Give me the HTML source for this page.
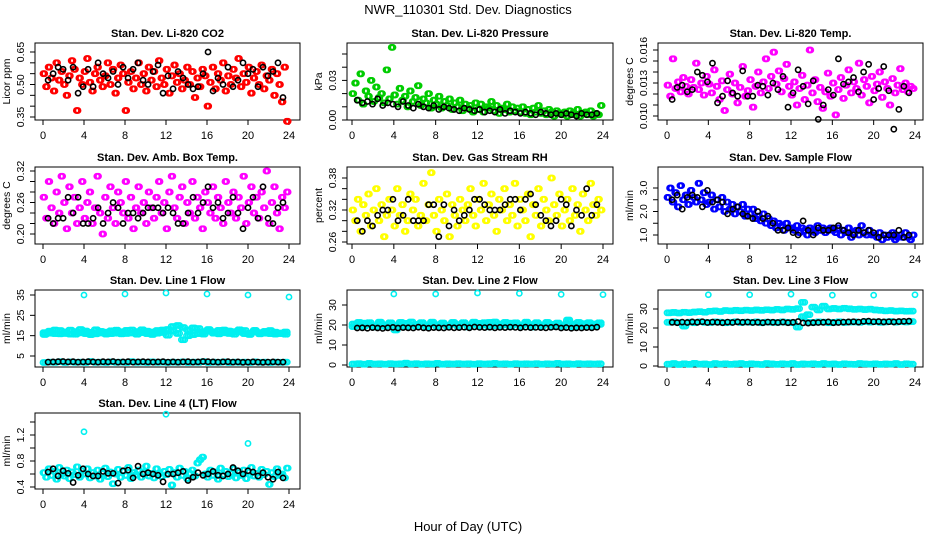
<!DOCTYPE html>
<html><head><meta charset="utf-8"><style>
html,body{margin:0;padding:0;background:#fff;}
svg{display:block;font-family:"Liberation Sans",sans-serif;}
</style></head><body>
<svg id="chart" width="936" height="540" viewBox="0 0 936 540" xmlns="http://www.w3.org/2000/svg">
<rect width="936" height="540" fill="#fff"/>
<text x="468" y="14" font-size="13" text-anchor="middle">NWR_110301  Std. Dev. Diagnostics</text>
<text x="468" y="531" font-size="13" text-anchor="middle">Hour of Day (UTC)</text>
</svg>
<script>
// ---------- data ----------
const xTickVals = [0,4,8,12,16,20,24];
const outlierHours = [4,8,12,16,20,24];

const co2Color = [0.55,0.49,0.58,0.53,0.47,0.60,0.52,0.56,0.50,0.45,0.54,0.61,0.57,0.38,0.53,0.50,0.56,0.62,0.51,0.47,0.55,0.58,0.52,0.49,0.54,0.60,0.50,0.57,0.46,0.53,0.59,0.55,0.38,0.51,0.56,0.48,0.53,0.60,0.50,0.55,0.47,0.58,0.52,0.56,0.49,0.61,0.53,0.50,0.57,0.46,0.54,0.59,0.51,0.55,0.48,0.52,0.58,0.50,0.56,0.44,0.53,0.49,0.57,0.54,0.40,0.51,0.58,0.48,0.55,0.52,0.60,0.47,0.54,0.50,0.57,0.53,0.62,0.49,0.55,0.51,0.58,0.46,0.53,0.56,0.50,0.59,0.48,0.54,0.52,0.57,0.45,0.55,0.50,0.42,0.58,0.33];
const co2Black = [0.52,0.55,0.58,0.57,0.52,0.58,0.46,0.49,0.57,0.49,0.60,0.55,0.53,0.56,0.50,0.58,0.53,0.57,0.60,0.52,0.50,0.56,0.59,0.46,0.54,0.48,0.56,0.53,0.50,0.48,0.49,0.55,0.65,0.47,0.53,0.50,0.58,0.49,0.52,0.60,0.55,0.57,0.49,0.58,0.54,0.56,0.60,0.44];

const presColor = [0.020,0.028,0.015,0.035,0.012,0.022,0.018,0.030,0.014,0.025,0.017,0.020,0.013,0.038,0.016,0.055,0.019,0.012,0.024,0.015,0.018,0.010,0.022,0.014,0.017,0.026,0.011,0.016,0.013,0.020,0.009,0.015,0.012,0.018,0.009,0.014,0.011,0.016,0.008,0.013,0.010,0.015,0.007,0.012,0.009,0.011,0.006,0.013,0.008,0.012,0.006,0.010,0.009,0.014,0.007,0.011,0.005,0.009,0.008,0.012,0.006,0.010,0.007,0.009,0.006,0.010,0.005,0.008,0.004,0.009,0.006,0.011,0.005,0.007,0.004,0.008,0.006,0.003,0.007,0.005,0.004,0.006,0.003,0.007,0.005,0.004,0.008,0.003,0.005,0.006,0.004,0.007,0.003,0.005,0.004,0.011];
const presBlack = [0.015,0.013,0.014,0.012,0.016,0.011,0.013,0.012,0.010,0.014,0.011,0.009,0.012,0.010,0.009,0.011,0.008,0.010,0.009,0.008,0.007,0.009,0.008,0.007,0.008,0.006,0.007,0.006,0.008,0.005,0.007,0.006,0.005,0.006,0.005,0.004,0.006,0.005,0.004,0.005,0.004,0.005,0.004,0.003,0.005,0.004,0.004,0.005];

const tempColor = [0.0128,0.0118,0.0152,0.0125,0.0131,0.0122,0.0135,0.0127,0.0120,0.0133,0.0126,0.0148,0.0124,0.0130,0.0119,0.0136,0.0129,0.0121,0.0142,0.0127,0.0115,0.0132,0.0105,0.0124,0.0138,0.0120,0.0130,0.0112,0.0126,0.0145,0.0118,0.0123,0.0133,0.0108,0.0127,0.0140,0.0121,0.0131,0.0152,0.0125,0.0136,0.0158,0.0129,0.0141,0.0122,0.0134,0.0147,0.0127,0.0119,0.0131,0.0110,0.0125,0.0137,0.0115,0.0128,0.0160,0.0121,0.0133,0.0113,0.0126,0.0107,0.0122,0.0139,0.0118,0.0130,0.0101,0.0124,0.0135,0.0116,0.0128,0.0142,0.0121,0.0131,0.0125,0.0148,0.0119,0.0133,0.0127,0.0112,0.0136,0.0123,0.0129,0.0140,0.0117,0.0131,0.0125,0.0110,0.0134,0.0121,0.0128,0.0143,0.0124,0.0130,0.0122,0.0127,0.0125];
const tempBlack = [0.0115,0.0126,0.0128,0.0122,0.0124,0.0140,0.0137,0.0131,0.0148,0.0112,0.0118,0.0132,0.0121,0.0118,0.0141,0.0118,0.0118,0.0128,0.0127,0.0119,0.0130,0.0124,0.0136,0.0108,0.0121,0.0142,0.0127,0.0111,0.0132,0.0097,0.0110,0.0124,0.0119,0.0152,0.0129,0.0131,0.0135,0.0122,0.0140,0.0147,0.0115,0.0125,0.0145,0.0123,0.0088,0.0106,0.0127,0.0121];

const ambColor = [0.27,0.23,0.30,0.25,0.22,0.28,0.24,0.31,0.26,0.21,0.29,0.24,0.27,0.22,0.25,0.30,0.23,0.26,0.28,0.22,0.25,0.31,0.24,0.20,0.27,0.23,0.29,0.25,0.22,0.28,0.26,0.24,0.30,0.23,0.27,0.21,0.25,0.29,0.24,0.26,0.22,0.28,0.25,0.23,0.27,0.30,0.24,0.26,0.21,0.28,0.31,0.25,0.23,0.27,0.29,0.22,0.26,0.24,0.30,0.23,0.27,0.25,0.21,0.28,0.26,0.24,0.29,0.23,0.27,0.25,0.22,0.30,0.26,0.24,0.28,0.23,0.27,0.25,0.31,0.22,0.26,0.29,0.24,0.27,0.23,0.28,0.25,0.32,0.22,0.26,0.29,0.24,0.21,0.27,0.25,0.28];
const ambBlack = [0.23,0.22,0.23,0.23,0.27,0.24,0.27,0.22,0.22,0.23,0.25,0.22,0.24,0.26,0.25,0.22,0.24,0.24,0.23,0.24,0.25,0.25,0.25,0.24,0.25,0.24,0.22,0.22,0.24,0.27,0.24,0.26,0.29,0.25,0.26,0.23,0.24,0.27,0.24,0.21,0.25,0.27,0.23,0.29,0.23,0.22,0.25,0.26];

const rhColor = [0.32,0.30,0.34,0.28,0.33,0.31,0.35,0.29,0.32,0.36,0.30,0.33,0.27,0.31,0.34,0.32,0.29,0.36,0.31,0.33,0.28,0.30,0.35,0.32,0.34,0.29,0.31,0.37,0.30,0.33,0.39,0.31,0.28,0.34,0.32,0.30,0.35,0.27,0.33,0.31,0.29,0.34,0.32,0.30,0.33,0.36,0.31,0.29,0.34,0.32,0.37,0.30,0.33,0.35,0.31,0.28,0.34,0.32,0.36,0.30,0.33,0.31,0.37,0.29,0.34,0.32,0.30,0.35,0.27,0.33,0.31,0.36,0.29,0.34,0.32,0.30,0.38,0.33,0.31,0.35,0.29,0.32,0.34,0.30,0.36,0.31,0.33,0.28,0.35,0.32,0.30,0.37,0.33,0.31,0.34,0.32];
const rhBlack = [0.30,0.28,0.30,0.29,0.31,0.32,0.32,0.34,0.30,0.31,0.34,0.30,0.30,0.30,0.33,0.33,0.27,0.33,0.29,0.32,0.30,0.31,0.32,0.34,0.34,0.33,0.32,0.32,0.32,0.33,0.34,0.34,0.32,0.34,0.35,0.33,0.31,0.30,0.29,0.30,0.34,0.33,0.29,0.32,0.31,0.36,0.31,0.33];

const flowColor = [2.6,3.0,2.4,2.8,2.2,3.1,2.5,2.7,2.3,2.9,2.6,2.4,3.2,2.5,2.8,2.3,2.4,2.7,2.1,2.5,2.2,2.6,2.0,2.4,2.1,2.3,1.9,2.2,2.0,2.3,1.8,2.1,1.9,2.1,1.7,1.8,1.6,1.9,1.5,1.7,1.4,1.6,1.3,1.5,1.4,1.2,1.5,1.3,1.3,1.2,1.4,1.1,1.3,1.2,1.0,1.3,1.2,1.1,1.4,1.2,1.3,1.1,1.2,1.3,1.2,1.1,1.3,1.0,1.2,1.1,1.3,0.9,1.1,1.2,1.0,1.4,1.1,1.0,1.2,1.0,1.0,0.9,1.1,0.8,1.0,0.9,1.0,1.1,0.8,0.9,1.0,0.9,1.1,0.9,0.8,1.0];
const flowBlack = [2.5,2.7,2.1,2.6,2.7,2.6,2.2,2.9,2.4,2.5,2.4,1.9,2.1,2.2,1.9,1.8,1.7,2.0,1.7,1.8,1.5,1.2,1.2,1.3,1.1,1.0,1.6,1.2,1.0,1.3,1.2,1.2,1.3,1.4,1.2,1.1,1.0,1.2,1.1,1.2,1.1,0.9,1.0,1.0,1.0,1.2,0.9,1.0];

const line1CyanA = [16.5,17.2,16.0,17.5,16.8,15.8,17.0,16.4,17.3,16.6,15.9,17.1,16.7,17.4,16.2,16.9,17.6,16.3,17.0,16.5,17.2,16.8,17.5,16.6,18.0,17.3,16.1,19.0,17.8,15.5,18.5,17.0,17.2,16.9,17.6,16.4,17.3,17.0,16.8,17.5,16.2,16.9,16.5,17.1,16.0,16.7,16.3,16.8];
const line1CyanB = [15.6,16.2,17.8,15.9,16.1,17.7,15.7,18.0,16.0,15.5,17.9,16.3,15.8,16.0,17.7,15.9,16.1,17.8,15.7,17.9,16.0,15.6,16.2,17.8,15.2,19.5,20.0,13.0,15.0,18.8,16.0,15.8,18.0,16.2,15.9,17.8,16.1,15.7,17.9,16.0,15.6,17.6,15.9,16.2,17.5,15.8,16.0,15.7];
const line1CyanLow = [1.8,2.0,1.9,2.2,1.8,2.1,1.9,2.0,1.8,2.3,1.9,2.0,1.8,2.1,1.9,2.0,1.8,2.2,1.9,2.0,1.8,2.1,1.9,2.0,1.8,2.0,1.9,2.1,1.8,2.0,1.9,2.2,1.8,2.0,1.9,2.1,1.8,2.0,1.9,2.0,1.8,2.1,1.9,2.0,1.8,2.0,1.9,2.0];
const line1Black = [2.0,2.1,2.2,2.3,2.1,2.2,2.0,2.1,2.2,2.1,2.0,2.2,2.1,2.3,2.0,2.1,2.2,2.0,2.1,2.2,2.1,2.0,2.1,2.2,2.0,2.1,2.0,2.1,2.2,2.0,2.1,2.3,2.2,2.1,2.0,2.1,2.2,2.0,2.1,1.9,2.0,2.1,2.0,1.9,2.0,2.1,2.0,2.0];
const line1Outliers = [35.0,35.5,36.0,35.5,35.0,34.0];

const line2CyanA = [20.5,19.8,20.9,20.2,19.5,20.7,20.0,21.0,19.7,20.4,20.8,19.9,20.3,21.1,19.6,20.5,20.1,20.9,19.8,20.6,20.2,21.2,19.9,20.4,20.8,20.0,21.3,19.7,20.5,20.1,20.9,20.3,19.8,20.7,20.2,21.0,19.9,20.6,20.3,20.8,20.0,22.0,20.4,19.8,20.7,20.2,20.5,20.3];
const line2CyanB = [19.2,21.3,19.4,21.2,19.0,21.4,19.3,21.1,17.5,21.3,19.2,21.5,19.4,21.2,19.1,21.4,19.3,21.0,19.2,21.3,19.4,21.1,19.0,21.4,19.3,21.2,19.1,21.5,19.4,21.3,19.2,21.1,19.3,21.4,19.0,21.2,19.4,21.3,19.2,21.0,19.3,22.5,19.1,21.3,19.4,21.2,19.2,21.1];
const line2CyanLow = [0.5,0.7,0.4,0.8,0.5,0.6,0.4,0.7,0.5,0.6,0.9,0.5,0.7,0.4,0.6,0.5,0.8,0.4,0.6,0.5,0.7,0.5,0.6,0.4,0.7,0.5,0.6,0.8,0.5,0.6,0.4,0.7,0.5,0.6,0.5,0.7,0.4,0.6,0.5,0.8,0.5,0.6,0.4,0.7,0.5,0.6,0.5,0.6];
const line2Black = [18.5,18.6,18.4,18.7,18.5,18.3,18.6,18.8,18.5,18.7,18.6,18.5,18.9,18.6,18.4,18.7,18.6,18.5,18.8,18.6,18.7,18.9,18.6,19.0,18.8,18.7,18.9,18.6,18.8,18.7,18.9,18.8,18.6,18.9,18.7,18.8,18.7,18.6,18.8,19.0,18.5,18.7,18.4,18.6,18.5,18.7,18.6,18.9];
const line2Outliers = [35.5,35.5,36.0,35.8,35.3,35.2];

const line3CyanUpper = [28.0,28.2,27.9,28.3,28.1,28.4,28.6,28.3,28.8,29.0,28.7,29.2,29.0,29.3,29.1,29.4,29.2,29.5,29.3,29.6,29.4,29.8,29.5,30.0,29.8,30.2,33.5,27.0,31.0,29.5,31.5,30.0,30.3,30.0,30.4,30.1,29.8,30.0,29.7,29.9,29.5,29.3,29.0,29.2,28.9,29.0,28.8,28.9];
const line3CyanMid = [23.0,23.2,22.9,21.0,23.1,22.8,23.3,23.0,22.9,23.2,23.1,22.8,23.0,23.3,22.9,23.1,23.0,23.2,22.8,23.1,23.0,22.9,23.2,23.0,22.8,20.5,26.0,23.0,22.9,23.2,23.1,22.8,23.0,23.3,22.9,23.1,23.2,23.0,23.4,23.1,23.3,23.0,23.2,23.4,23.1,23.3,23.2,23.4];
const line3CyanLow = [1.0,1.3,0.8,1.2,0.9,1.4,1.0,1.1,0.8,1.3,1.0,1.2,0.9,1.1,1.3,0.9,1.2,1.0,0.8,1.3,1.1,0.9,1.2,1.0,1.3,0.8,1.1,1.0,1.2,0.9,1.3,1.0,1.1,0.8,1.2,1.0,0.9,1.3,1.1,1.0,1.2,0.9,1.1,1.0,1.3,0.8,1.2,1.0];
const line3Black = [23.0,22.8,23.1,22.9,23.2,23.0,23.3,22.9,23.1,23.0,22.8,23.1,22.9,23.2,23.0,23.1,22.9,23.0,22.8,23.1,23.0,22.9,23.1,22.8,23.0,23.4,22.7,22.6,22.8,22.9,23.0,23.2,22.8,22.9,23.1,23.2,23.3,23.1,23.5,23.6,23.3,23.4,23.2,23.3,23.2,23.4,23.5,23.6];
const line3Outliers = [37.5,37.5,37.8,37.3,37.3,37.5];

const line4Color = [0.62,0.55,0.68,0.58,0.64,0.52,0.70,0.60,0.57,0.66,0.53,0.63,0.59,0.71,0.55,0.65,0.60,0.68,0.54,0.62,0.57,0.66,0.52,0.61,0.69,0.56,0.63,0.45,0.60,0.67,0.55,0.64,0.58,0.70,0.53,0.62,0.59,0.66,0.55,0.63,0.72,0.57,0.61,0.54,0.68,0.60,0.56,0.64,0.59,0.67,0.43,0.62,0.55,0.69,0.58,0.64,0.53,0.61,0.66,0.57,0.77,0.82,0.86,0.60,0.55,0.66,0.58,0.63,0.52,0.69,0.59,0.64,0.56,0.61,0.68,0.54,0.62,0.58,0.66,0.53,0.63,0.70,0.57,0.61,0.55,0.67,0.59,0.64,0.44,0.62,0.56,0.68,0.58,0.60,0.54,0.69];
const line4Black = [0.63,0.68,0.57,0.65,0.61,0.47,0.58,0.68,0.60,0.57,0.57,0.64,0.61,0.61,0.46,0.65,0.66,0.54,0.72,0.60,0.62,0.60,0.58,0.48,0.60,0.60,0.62,0.64,0.50,0.55,0.62,0.58,0.60,0.64,0.58,0.57,0.60,0.70,0.65,0.60,0.65,0.63,0.57,0.62,0.55,0.52,0.63,0.54];
const line4OutlierHours = [4,12,20];
const line4Outliers = [1.25,1.52,1.07];

// ---------- drawing ----------
const NS = "http://www.w3.org/2000/svg";
const svg = document.getElementById('chart');
const COLS = [{l:35,r:300,x0:43,x24:289},{l:347,r:613,x0:352,x24:603},{l:658,r:923,x0:667,x24:915}];
const ROWS = [{t:43,b:120},{t:167,b:244},{t:290,b:367},{t:413,b:489}];

function mk(tag, attrs, parent){
  const e = document.createElementNS(NS, tag);
  for (const k in attrs) e.setAttribute(k, attrs[k]);
  (parent||svg).appendChild(e);
  return e;
}

function panel(p){
  const c = COLS[p.col], r = ROWS[p.row];
  const g = mk('g', {});
  
  
  const xs = h => c.x0 + (c.x24 - c.x0) * h / 24;
  const ys = v => p.p0 + (p.p1 - p.p0) * (v - p.v0) / (p.v1 - p.v0);
  const box = mk('rect', {x:c.l, y:r.t, width:c.r-c.l, height:r.b-r.t, fill:'none', stroke:'#000', 'stroke-width':1}, g);
  
  
  const title = mk('text', {x:(c.l+c.r)/2, y:r.t-6, 'font-size':11, 'font-weight':'bold', 'text-anchor':'middle'}, g);
  title.textContent = p.title;
  
  
  xTickVals.forEach(v => {
    const x = xs(v);
    mk('line', {x1:x, x2:x, y1:r.b, y2:r.b+5, stroke:'#000'}, g);
    const t = mk('text', {x:x, y:r.b+19, 'font-size':11, 'text-anchor':'middle'}, g);
    t.textContent = v;
    
    
  });
  mk('line', {x1:xs(0), x2:xs(24), y1:r.b, y2:r.b, stroke:'#000'}, g);
  const yt = p.yTicks.map(ys);
  mk('line', {x1:c.l, x2:c.l, y1:Math.min(...yt), y2:Math.max(...yt), stroke:'#000'}, g);
  p.yTicks.forEach((v,i) => {
    const y = ys(v);
    mk('line', {x1:c.l-5, x2:c.l, y1:y, y2:y, stroke:'#000'}, g);
    if (p.yLabels[i] !== '') {
      const t = mk('text', {x:c.l-11, y:y, 'font-size':10.5, 'text-anchor':'middle', transform:`rotate(-90 ${c.l-11} ${y})`}, g);
      t.textContent = p.yLabels[i];
      
      
    }
  });
  const yl = mk('text', {x:c.l-25, y:(r.t+r.b)/2, 'font-size':10.5, 'text-anchor':'middle', transform:`rotate(-90 ${c.l-25} ${(r.t+r.b)/2})`}, g);
  yl.textContent = p.ylab;
  
  
  p.series.forEach(s => {
    const sg = mk('g', {fill:'none', stroke:s.color, 'stroke-width':1.6}, g);
    
    
    const reps = s.dense ? 3 : 1;
    s.vals.forEach((v,i) => {
      const h = s.hours ? s.hours[i] : s.start + i * s.step;
      const y = ys(v);
      for (let k = 0; k < reps; k++) {
        const hx = h + (s.dense ? k * s.step / reps : 0);
        const pt = mk('circle', {cx:xs(hx), cy:y, r:2.6}, sg);
        
        
      }
    });
  });
}

const C = (vals, color, id) => ({vals, color, id, start:0, step:24/vals.length, dense:true});
const K = (vals, id) => ({vals, color:'#000', id:id||'black', start:0.5, step:23.4/vals.length});
const O = (vals, color, hours) => ({vals, color, id:'outlier', hours});
const CY = '#00f0f0';

panel({name:'co2', col:0,row:0,title:'Stan. Dev. Li-820 CO2', ylab:'Licor ppm',
  v0:0.35,p0:117, v1:0.65,p1:52,
  yTicks:[0.35,0.40,0.45,0.50,0.55,0.60,0.65], yLabels:['0.35','','','0.50','','','0.65'],
  series:[C(co2Color,'#ff0000','red'), K(co2Black)]});
panel({name:'pressure', col:1,row:0,title:'Stan. Dev. Li-820 Pressure', ylab:'kPa',
  v0:0,p0:120, v1:0.05,p1:54,
  yTicks:[0,0.01,0.02,0.03,0.04,0.05], yLabels:['0.00','','','0.03','',''],
  series:[C(presColor,'#00cc00','green'), K(presBlack)]});
panel({name:'temp', col:2,row:0,title:'Stan. Dev. Li-820 Temp.', ylab:'degrees C',
  v0:0.010,p0:116, v1:0.016,p1:50,
  yTicks:[0.010,0.011,0.012,0.013,0.014,0.015,0.016], yLabels:['0.010','','','0.013','','','0.016'],
  series:[C(tempColor,'#ff00ff','magenta'), K(tempBlack)]});
panel({name:'amb-box-temp', col:0,row:1,title:'Stan. Dev. Amb. Box Temp.', ylab:'degrees C',
  v0:0.20,p0:234, v1:0.32,p1:171,
  yTicks:[0.20,0.22,0.24,0.26,0.28,0.30,0.32], yLabels:['0.20','','','0.26','','','0.32'],
  series:[C(ambColor,'#ff00ff','magenta'), K(ambBlack)]});
panel({name:'gas-rh', col:1,row:1,title:'Stan. Dev. Gas Stream RH', ylab:'percent',
  v0:0.26,p0:242, v1:0.38,p1:178,
  yTicks:[0.26,0.28,0.30,0.32,0.34,0.36,0.38], yLabels:['0.26','','','0.32','','','0.38'],
  series:[C(rhColor,'#ffff00','yellow'), K(rhBlack)]});
panel({name:'sample-flow', col:2,row:1,title:'Stan. Dev. Sample Flow', ylab:'ml/min',
  v0:1.0,p0:235, v1:3.0,p1:188,
  yTicks:[1.0,1.5,2.0,2.5,3.0], yLabels:['1.0','','2.0','','3.0'],
  series:[C(flowColor,'#0000ff','blue'), K(flowBlack)]});
panel({name:'line1-flow', col:0,row:2,title:'Stan. Dev. Line 1 Flow', ylab:'ml/min',
  v0:5,p0:356, v1:35,p1:295,
  yTicks:[5,15,25,35], yLabels:['5','15','25','35'],
  series:[C(line1CyanA,CY,'cyan-a'), C(line1CyanB,CY,'cyan-b'), C(line1CyanLow,CY,'cyan-low'), O(line1Outliers,CY,outlierHours), K(line1Black)]});
panel({name:'line2-flow', col:1,row:2,title:'Stan. Dev. Line 2 Flow', ylab:'ml/min',
  v0:0,p0:365, v1:30,p1:305,
  yTicks:[0,10,20,30], yLabels:['0','10','20','30'],
  series:[C(line2CyanA,CY,'cyan-a'), C(line2CyanB,CY,'cyan-b'), C(line2CyanLow,CY,'cyan-low'), O(line2Outliers,CY,outlierHours), K(line2Black)]});
panel({name:'line3-flow', col:2,row:2,title:'Stan. Dev. Line 3 Flow', ylab:'ml/min',
  v0:0,p0:366, v1:30,p1:309,
  yTicks:[0,10,20,30], yLabels:['0','10','20','30'],
  series:[C(line3CyanUpper,CY,'cyan-upper'), C(line3CyanMid,CY,'cyan-mid'), C(line3CyanLow,CY,'cyan-low'), O(line3Outliers,CY,outlierHours), K(line3Black)]});
panel({name:'line4-flow', col:0,row:3,title:'Stan. Dev. Line 4 (LT) Flow', ylab:'ml/min',
  v0:0.4,p0:487, v1:1.4,p1:422,
  yTicks:[0.4,0.6,0.8,1.0,1.2,1.4], yLabels:['0.4','','0.8','','1.2',''],
  series:[C(line4Color,CY,'cyan'), O(line4Outliers,CY,line4OutlierHours), K(line4Black)]});
</script>
</body></html>
